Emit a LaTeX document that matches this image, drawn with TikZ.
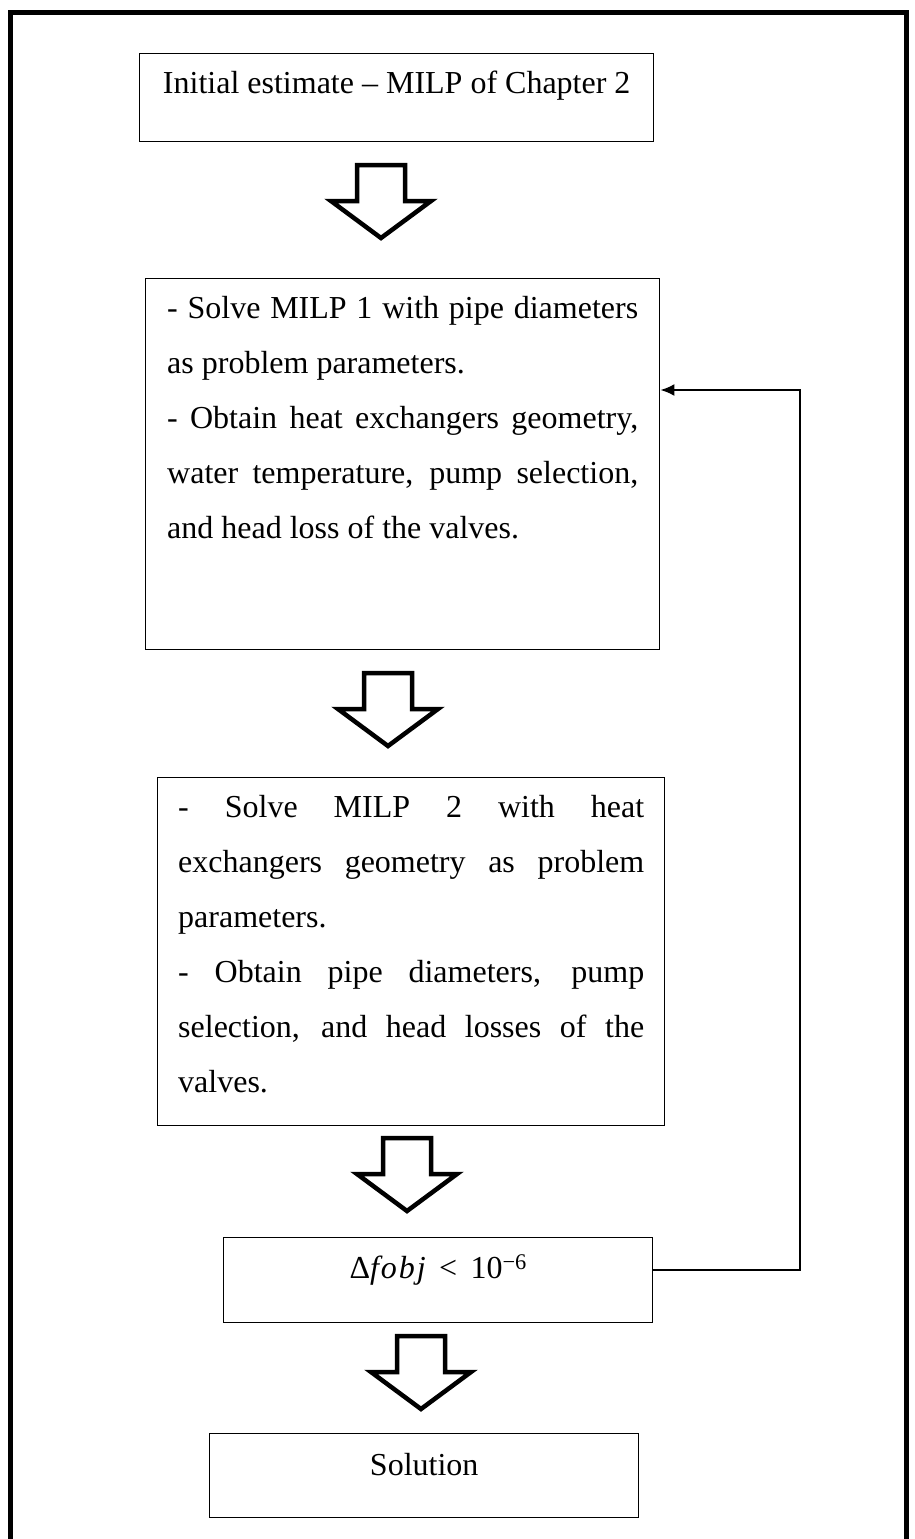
\documentclass[tikz,border=0pt]{standalone}
\usepackage{fontspec}
\setmainfont{Liberation Serif}
\usetikzlibrary{arrows.meta}

\begin{document}
\begin{tikzpicture}[x=1pt,y=-1pt,
  stepbox/.style={draw,line width=1.4pt,anchor=north west,inner ysep=0pt,
    font=\fontsize{32}{55}\selectfont},
  textbox/.style={stepbox,align=justify},
  blockarrow/.pic={
    \draw[line width=4.5pt] (-24,0) -- (24,0) -- (24,36) -- (50,36) -- (0,73)
      -- (-50,36) -- (-24,36) -- cycle;
  },
  feedback/.style={-{Latex[length=14pt,width=12pt]},line width=2pt}]
  \useasboundingbox (0,0) rectangle (915,1539);
  \draw[line width=5pt] (10,12) rectangle (906,1560);

  \node[stepbox,minimum width=514pt,text height=40pt,text depth=48pt] (init) at (139,53)
    {Initial estimate – MILP of Chapter 2};
  \node[textbox,text width=471pt,inner xsep=21.5pt,text height=40pt,text depth=331pt] (milpone) at (145,278)
    {- Solve MILP 1 with pipe diameters\linebreak as problem parameters.\par
     - Obtain heat exchangers geometry,\linebreak water temperature, pump selection,\linebreak
     and head loss of the valves.};
  \node[textbox,text width=466pt,inner xsep=20.5pt,text height=40pt,text depth=308pt] (milptwo) at (157,777)
    {- Solve MILP 2 with heat\linebreak exchangers geometry as problem\linebreak parameters.\par
     - Obtain pipe diameters, pump\linebreak selection, and head losses of the\linebreak valves.};
  \node[stepbox,minimum width=429pt,text height=41pt,text depth=44pt] (check) at (223,1237)
    {Δ\textit{f\kern2pt o\kern2pt b\kern2pt j} \,<\, 10\textsuperscript{−6}};
  \node[stepbox,minimum width=429pt,text height=42pt,text depth=42pt] (sol) at (209,1433)
    {Solution};

  \pic at (381,165) {blockarrow};
  \pic at (388,673) {blockarrow};
  \pic at (407,1138) {blockarrow};
  \pic at (421,1336) {blockarrow};

  \coordinate (loopcorner) at (800,390);
  \draw[feedback] ([yshift=10.5pt]check.east) -| (loopcorner) -- (loopcorner -| milpone.east);
\end{tikzpicture}
\end{document}
